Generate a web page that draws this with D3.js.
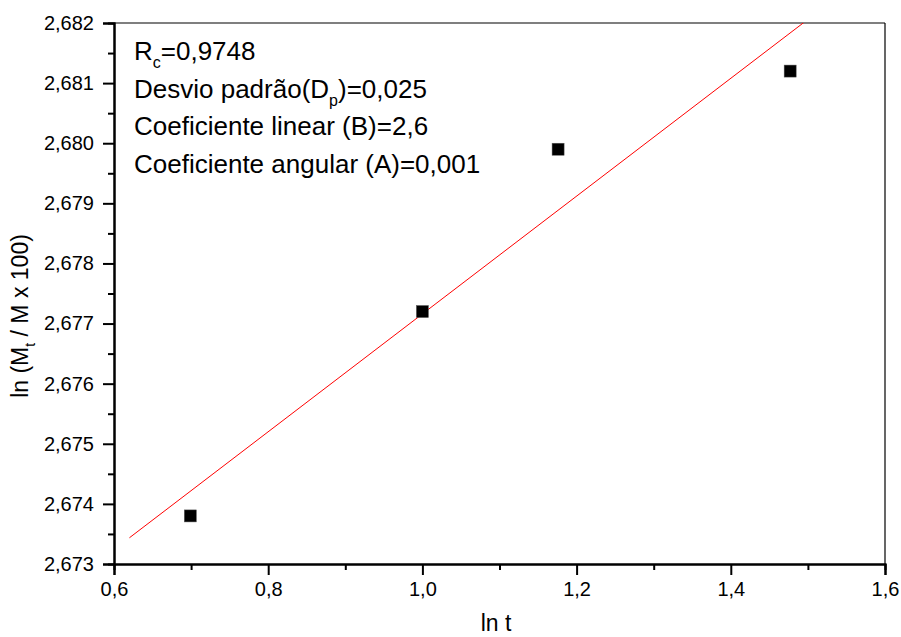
<!DOCTYPE html>
<html><head><meta charset="utf-8">
<script src="https://cdn.jsdelivr.net/npm/d3@7"></script>
<style>body{margin:0;background:#fff}svg{display:block}text{font-family:"Liberation Sans",Arial,sans-serif}</style>
</head><body><svg id="c" width="901" height="637"></svg>
<script>
const xValues = [0.699, 1.0, 1.176, 1.477];
const yValues = [2.6738, 2.6772, 2.6799, 2.6812];
const fitSlope = 0.0098;
const fitIntercept = 2.66736;
const fitRange = [0.62, 1.55];
const xTicks = [0.6, 0.8, 1.0, 1.2, 1.4, 1.6];
const yTicks = [2.673, 2.674, 2.675, 2.676, 2.677, 2.678, 2.679, 2.680, 2.681, 2.682];
const xDomain = [0.6, 1.6];
const yDomain = [2.673, 2.682];

const L = 114, R = 885, T = 23, B = 564;
const svg = d3.select("#c");
const x = d3.scaleLinear().domain(xDomain).range([L, R]);
const y = d3.scaleLinear().domain(yDomain).range([B, T]);
const fmtX = d => d3.format(".1f")(d).replace(".", ",");
const fmtY = d => d3.format(".3f")(d).replace(".", ",");

svg.append("defs").append("clipPath").attr("id","clip").append("rect")
  .attr("x",L).attr("y",T).attr("width",R-L).attr("height",B-T);

// frame top/right
svg.append("line").attr("x1",L).attr("x2",R).attr("y1",T).attr("y2",T).attr("stroke","#000").attr("stroke-width",1.2);
svg.append("line").attr("x1",R).attr("x2",R).attr("y1",T).attr("y2",B).attr("stroke","#000").attr("stroke-width",1.2);

const xMinor = d3.range(0.7, 1.6, 0.2);
const yMinor = d3.range(2.6735, 2.682, 0.001);

const gx = svg.append("g").attr("transform",`translate(0,${B})`)
  .call(d3.axisBottom(x).tickValues(xTicks).tickFormat(fmtX).tickSize(11).tickPadding(6));
const gxm = svg.append("g").attr("transform",`translate(0,${B})`)
  .call(d3.axisBottom(x).tickValues(xMinor).tickFormat("").tickSize(6));
const gy = svg.append("g").attr("transform",`translate(${L},0)`)
  .call(d3.axisLeft(y).tickValues(yTicks).tickFormat(fmtY).tickSize(11).tickPadding(9));
const gym = svg.append("g").attr("transform",`translate(${L},0)`)
  .call(d3.axisLeft(y).tickValues(yMinor).tickFormat("").tickSize(6));
[gx,gxm,gy,gym].forEach(g=>{
  g.attr("font-size",20).attr("font-family","Liberation Sans, Arial, sans-serif");
  g.selectAll(".domain").attr("stroke","#000").attr("stroke-width",2);
  g.selectAll(".tick line").attr("stroke","#000").attr("stroke-width",2);
  g.selectAll("text").attr("fill","#000");
});
gx.selectAll("text").attr("dy","0.75em");

// fit line
svg.append("line").attr("clip-path","url(#clip)")
  .attr("x1",x(fitRange[0])).attr("y1",y(fitIntercept+fitSlope*fitRange[0]))
  .attr("x2",x(fitRange[1])).attr("y2",y(fitIntercept+fitSlope*fitRange[1]))
  .attr("stroke","#ff0000").attr("stroke-width",1);

// points
const pts = xValues.map((v,i)=>[v,yValues[i]]);
svg.selectAll("rect.pt").data(pts).enter().append("rect").attr("class","pt")
  .attr("x",d=>x(d[0])-6).attr("y",d=>y(d[1])-6).attr("width",12).attr("height",12)
  .attr("fill","#000").attr("stroke","#555").attr("stroke-width",0.5);

// annotation
const ann = svg.append("g").attr("font-size",26).attr("fill","#000");
const t1 = ann.append("text").attr("x",134).attr("y",60);
t1.append("tspan").text("R");
t1.append("tspan").attr("font-size",16).attr("dy",8).text("c");
t1.append("tspan").attr("dy",-8).text("=0,9748");
const t2 = ann.append("text").attr("x",134).attr("y",97.5);
t2.append("tspan").text("Desvio padrão(D");
t2.append("tspan").attr("font-size",16).attr("dy",8).text("p");
t2.append("tspan").attr("dy",-8).text(")=0,025");
ann.append("text").attr("x",134).attr("y",135).text("Coeficiente linear (B)=2,6");
ann.append("text").attr("x",134).attr("y",172.5).text("Coeficiente angular (A)=0,001");

// axis titles
svg.append("text").attr("x",496).attr("y",631).attr("text-anchor","middle").attr("font-size",23).text("ln t");
const yt = svg.append("text").attr("transform",`translate(28,316) rotate(-90)`).attr("text-anchor","middle").attr("font-size",23);
yt.append("tspan").text("ln (M");
yt.append("tspan").attr("font-size",14).attr("dy",7).text("t");
yt.append("tspan").attr("dy",-7).text(" / M x 100)");
</script></body></html>
